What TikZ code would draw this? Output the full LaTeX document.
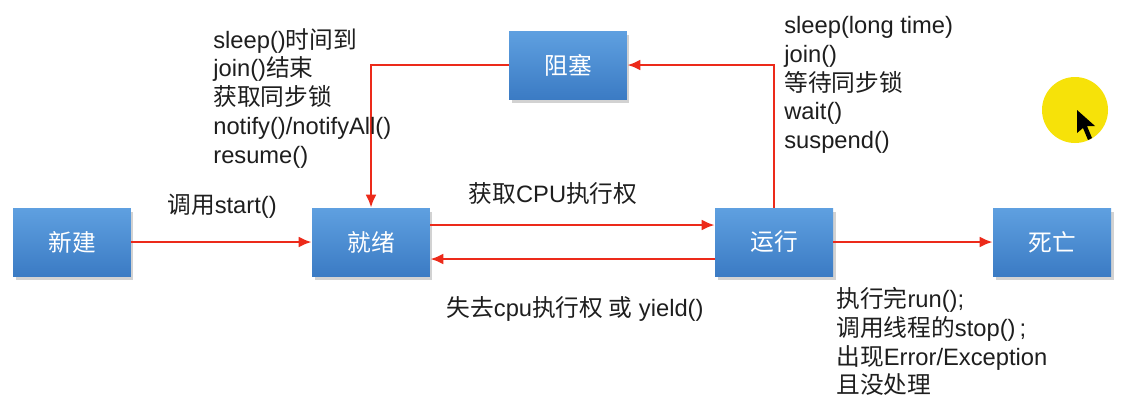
\documentclass[tikz,border=0pt]{standalone}
\usepackage{fontspec}
\setmainfont{Liberation Sans}
\newfontfamily\cjk{Noto Sans CJK SC}
\usetikzlibrary{arrows.meta,positioning,shadows}
\definecolor{BoxTop}{HTML}{5FA0E0}
\definecolor{BoxBottom}{HTML}{3B7BC4}
\definecolor{Flow}{HTML}{EC2A1A}
\definecolor{Spot}{HTML}{F6E209}
\definecolor{Ink}{HTML}{1E1E1E}
\tikzset{
  statebox/.style={minimum width=2.36cm,minimum height=1.36cm,inner sep=0pt,draw=none,
    top color=BoxTop,bottom color=BoxBottom,text=white,font=\cjk\fontsize{13.5}{16}\selectfont,
    drop shadow={shadow xshift=0.5mm,shadow yshift=-0.7mm,opacity=0.35}},
  flowarrow/.style={-{Latex[length=2.6mm,width=2.2mm]},line width=1.4pt,draw=Flow},
  notetext/.style={align=left,inner sep=0pt,text=Ink,font=\fontsize{13.5}{16.4}\selectfont},
}

\begin{document}
\begin{tikzpicture}[x=0.02cm,y=-0.02cm]
    \fill[white] (0,0) rectangle (1121,414);
    \useasboundingbox (0,0) rectangle (1121,414);

    % states
    \node[statebox] (new) at (72,242) {新建};
    \node[statebox] (ready) at (371,242) {就绪};
    \node[statebox] (run) at (774,242) {运行};
    \node[statebox] (dead) at (1052,242) {死亡};
    \node[statebox] (blocked) at (568,65) {阻塞};

    % transitions
    \draw[flowarrow] (new) -- (ready);
    \draw[flowarrow] ([yshift=0.34cm]ready.east) -- ([yshift=0.34cm]run.west);
    \draw[flowarrow] ([yshift=-0.34cm]run.west) -- ([yshift=-0.34cm]ready.east);
    \draw[flowarrow] (run.north) |- (blocked.east);
    \draw[flowarrow] (blocked.west) -| (ready.north);
    \draw[flowarrow] (run) -- (dead);

    % labels
    \node[notetext,anchor=base] (startnote) at (222,213) {{\cjk 调用}start()};
    \node[notetext,anchor=base] (getcpu) at (553,202) {{\cjk 获取}CPU{\cjk 执行权}};
    \node[notetext,anchor=base] (losecpu) at (575,316) {{\cjk 失去}cpu{\cjk 执行权 或} yield()};
    \node[notetext,anchor=north west] (wakenote) at (213,28)
      {sleep(){\cjk 时间到}\\join(){\cjk 结束}\\{\cjk 获取同步锁}\\notify()/notifyAll()\\resume()};
    \node[notetext,anchor=north west] (blocknote) at (784,16)
      {sleep(long time)\\join()\\{\cjk 等待同步锁}\\wait()\\suspend()};
    \node[notetext,anchor=north west] (endnote) at (836,287)
      {{\cjk 执行完}run();\\{\cjk 调用线程的}stop()\,;\\{\cjk 出现}Error/Exception\\{\cjk 且没处理}};

    % pointer
    \fill[Spot] (1075,110) circle (33);
    \fill[black] (1077,110) -- (1077,133) -- (1083,128) -- (1088,140) -- (1092,138)
      -- (1087,126) -- (1095,126) -- cycle;
  \end{tikzpicture}
\end{document}
